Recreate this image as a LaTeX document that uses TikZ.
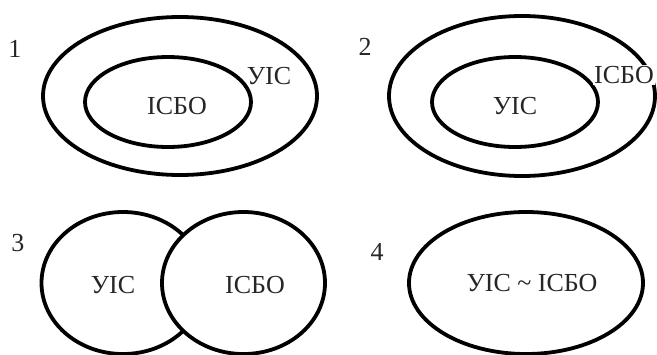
\documentclass[tikz,border=0pt]{standalone}
\usepackage{fontspec}
\setmainfont{Liberation Serif}
\usetikzlibrary{shapes.geometric}
\begin{document}
\begin{tikzpicture}[x=1pt,y=-1pt,
  ring/.style={draw=black,line width=3.8pt,ellipse,inner sep=0pt,fill=white},
  lbl/.style={font=\fontsize{26}{30}\selectfont,text=black!85,inner sep=1pt},
  num/.style={font=\fontsize{26}{30}\selectfont,text=black!85}]
\useasboundingbox (0,0) rectangle (657,354);
% panel 1
\node[ring,minimum width=274pt,minimum height=158pt] (o1) at (180,96) {};
\node[ring,minimum width=166pt,minimum height=90pt] (i1) at (168,102) {};
\node[lbl] (t1a) at (177,106) {ІСБО};
\node[lbl] (t1b) at (269,76) {УІС};
\node[num] (n1) at (15,49) {1};
% panel 2
\node[ring,minimum width=266pt,minimum height=160pt] (o2) at (522,96) {};
\node[ring,minimum width=166pt,minimum height=90pt] (i2) at (515,102) {};
\node[lbl] (t2a) at (515,106) {УІС};
\node[lbl,fill=white] (t2b) at (624,75) {ІСБО};
\node[num] (n2) at (365,47) {2};
% panel 3
\node[ring,minimum width=163pt,minimum height=142pt] (l3) at (123,283) {};
\node[ring,minimum width=163pt,minimum height=142pt] (r3) at (243.5,283) {};
\node[lbl] (t3a) at (113,285) {УІС};
\node[lbl] (t3b) at (255,285) {ІСБО};
\node[num] (n3) at (18,243) {3};
% panel 4
\node[ring,minimum width=234pt,minimum height=142pt] (e4) at (526,283) {};
\node[lbl] (t4) at (532,283) {УІС \textasciitilde{} ІСБО};
\node[num] (n4) at (377,252) {4};
\end{tikzpicture}
\end{document}
